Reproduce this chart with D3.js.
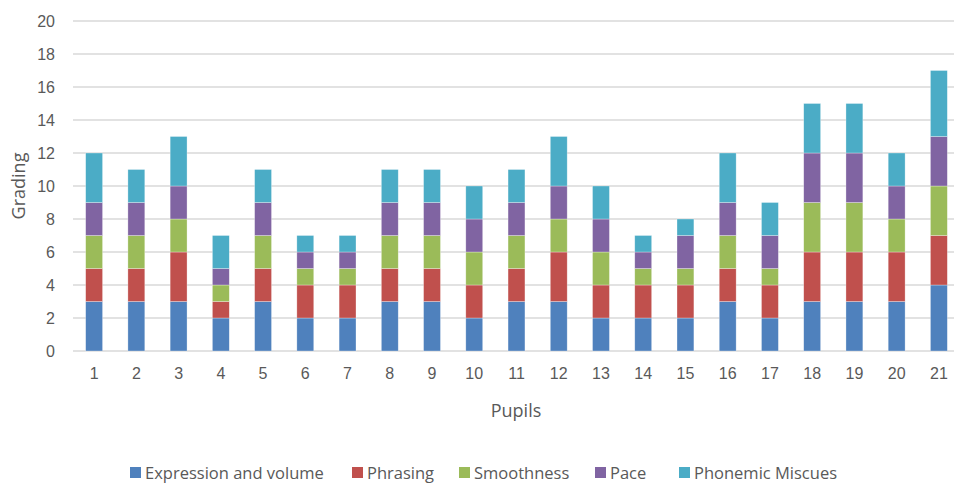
<!DOCTYPE html>
<html>
<head>
<meta charset="utf-8">
<script src="https://cdn.jsdelivr.net/npm/d3@7/dist/d3.min.js"></script>
<style>
  html, body { margin: 0; padding: 0; background: #fff; }
  svg { display: block; font-family: "Open Sans", "Lato", sans-serif; }
</style>
</head>
<body>
<svg id="chart" width="954" height="484"></svg>
<script>
// Reading-fluency grading per pupil, stacked by criterion
const pupils = ["1","2","3","4","5","6","7","8","9","10","11","12","13","14","15","16","17","18","19","20","21"];
const seriesNames = ["Expression and volume", "Phrasing", "Smoothness", "Pace", "Phonemic Miscues"];
const expressionAndVolume = [3,3,3,2,3,2,2,3,3,2,3,3,2,2,2,3,2,3,3,3,4];
const phrasing            = [2,2,3,1,2,2,2,2,2,2,2,3,2,2,2,2,2,3,3,3,3];
const smoothness          = [2,2,2,1,2,1,1,2,2,2,2,2,2,1,1,2,1,3,3,2,3];
const pace                = [2,2,2,1,2,1,1,2,2,2,2,2,2,1,2,2,2,3,3,2,3];
const phonemicMiscues     = [3,2,3,2,2,1,1,2,2,2,2,3,2,1,1,3,2,3,3,2,4];
const yTicks = [0,2,4,6,8,10,12,14,16,18,20];
const colors = ["#4F81BD", "#C0504D", "#9BBB59", "#8064A2", "#4BACC6"];

const seriesValues = [expressionAndVolume, phrasing, smoothness, pace, phonemicMiscues];
const rows = pupils.map((p, i) => {
  const r = { pupil: p };
  seriesNames.forEach((s, j) => { r[s] = seriesValues[j][i]; });
  return r;
});

const svg = d3.select("#chart");
const plotLeft = 73, plotRight = 960, plotTop = 21, plotBottom = 351;

const x = d3.scaleBand().domain(pupils).range([plotLeft, plotRight]).paddingInner(0.6).paddingOuter(0.3);
const y = d3.scaleLinear().domain([0, 20]).range([plotBottom, plotTop]);

// gridlines
svg.append("g")
  .selectAll("line")
  .data(yTicks)
  .join("line")
  .attr("x1", plotLeft).attr("x2", 954)
  .attr("y1", d => y(d)).attr("y2", d => y(d))
  .attr("stroke", "#D9D9D9").attr("stroke-width", 1.5);

// y tick labels
const yAxis = d3.axisLeft(y).tickValues(yTicks).tickSize(0).tickPadding(0);
const gy = svg.append("g").attr("transform", `translate(${plotLeft - 18},0)`).call(yAxis);
gy.select(".domain").remove();
gy.selectAll("text").attr("fill", "#595959").style("font-size", "16px").style("font-family", "inherit");

// stacked bars
const stack = d3.stack().keys(seriesNames);
const stacked = stack(rows);
svg.append("g")
  .selectAll("g")
  .data(stacked)
  .join("g")
  .attr("fill", (d, i) => colors[i])
  .selectAll("rect")
  .data(d => d)
  .join("rect")
  .attr("x", d => x(d.data.pupil))
  .attr("width", x.bandwidth())
  .attr("y", d => y(d[1]))
  .attr("height", d => y(d[0]) - y(d[1]))
  .attr("stroke", "rgba(255,255,255,0.5)")
  .attr("stroke-width", 0.6);

// x tick labels
const xAxis = d3.axisBottom(x).tickSize(0).tickPadding(0);
const gx = svg.append("g").attr("transform", `translate(0,${plotBottom + 17})`).call(xAxis);
gx.select(".domain").remove();
gx.selectAll("text").attr("fill", "#595959").style("font-size", "16px").style("font-family", "inherit");

// axis titles
svg.append("text")
  .attr("x", 516).attr("y", 417)
  .attr("text-anchor", "middle")
  .attr("fill", "#595959").style("font-size", "18px")
  .text("Pupils");
svg.append("text")
  .attr("transform", "translate(25,186) rotate(-90)")
  .attr("text-anchor", "middle")
  .attr("fill", "#595959").style("font-size", "18px")
  .text("Grading");

// legend
const legendX = [130, 352, 459, 595, 679];
const legend = svg.append("g").selectAll("g")
  .data(seriesNames)
  .join("g")
  .attr("transform", (d, i) => `translate(${legendX[i]},467)`);
legend.append("rect").attr("width", 11).attr("height", 11).attr("y", 0)
  .attr("fill", (d, i) => colors[i]);
legend.append("text").attr("x", 15).attr("y", 12)
  .attr("fill", "#595959").style("font-size", "16.5px")
  .text(d => d);
</script>
</body>
</html>
